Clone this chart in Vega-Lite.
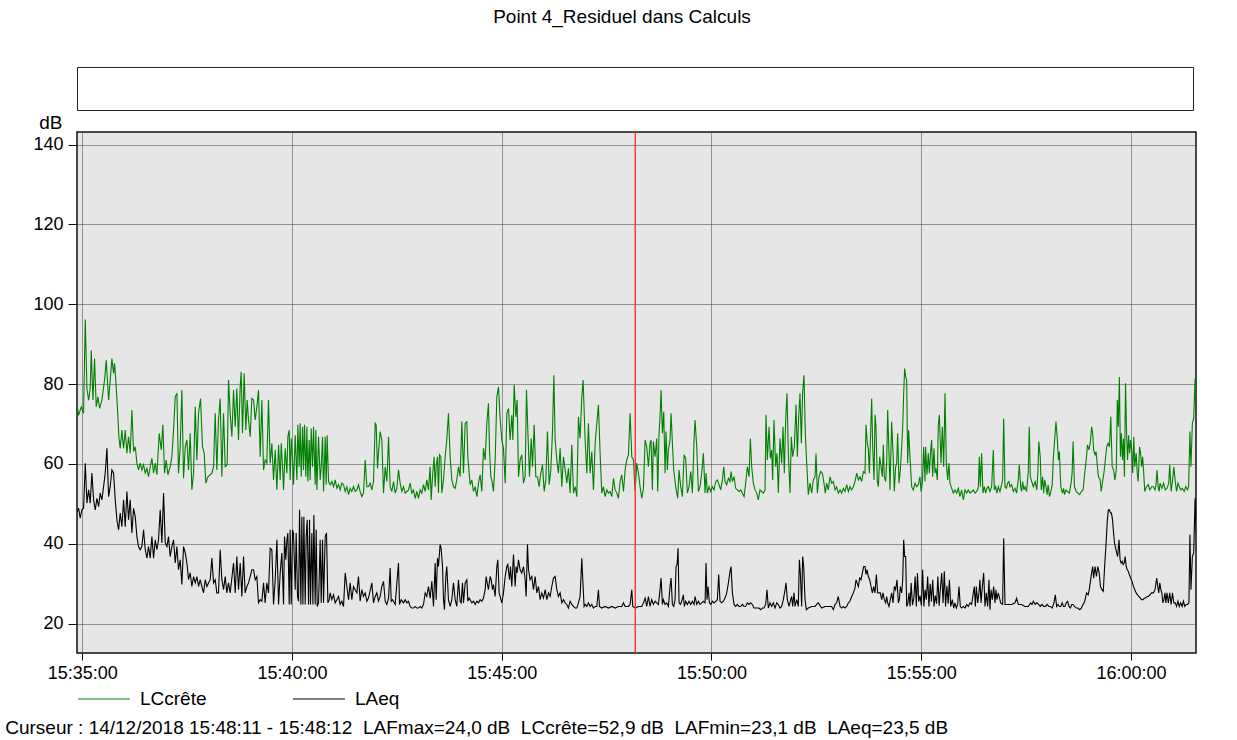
{
"$schema": "https://vega.github.io/schema/vega-lite/v6.json",
"autosize": {"type": "pad"},
"padding": {"left": 5, "top": 7, "right": 5, "bottom": 5},
"background": "white",
"title": {"text": "Curseur : 14/12/2018 15:48:11 - 15:48:12 \u00a0LAFmax=24,0 dB \u00a0LCcrête=52,9 dB \u00a0LAFmin=23,1 dB \u00a0LAeq=23,5 dB", "orient": "bottom", "anchor": "start", "frame": "bounds", "dx": -27, "offset": 10, "fontSize": 19, "fontWeight": "normal", "font": "Liberation Sans", "color": "black"},
"config": {
  "font": "Liberation Sans",
  "view": {"stroke": "black"},
  "axis": {"labelFont": "Liberation Sans", "labelFontSize": 18, "labelColor": "black", "tickColor": "black", "domain": false, "gridColor": "#3a3a3a", "gridDash": [1, 1], "gridOpacity": 1, "gridWidth": 1},
  "legend": {"labelFont": "Liberation Sans", "labelFontSize": 19, "labelColor": "black"},
  "title": {"font": "Liberation Sans", "fontSize": 19, "fontWeight": "normal", "color": "black"}
},
"spacing": 1,
"datasets": {
"c": [
{"t":-7,"v":74.3},{"t":-5.2,"v":72.2},{"t":-1.4,"v":74.3},{"t":1.9,"v":72.7},{"t":4.3,"v":96.2},{"t":6.7,"v":78.9},{"t":9.1,"v":76},{"t":11.4,"v":78.9},{"t":12.9,"v":88.5},{"t":15.3,"v":76},{"t":17.6,"v":86.4},{"t":20,"v":74.3},{"t":22.4,"v":76.8},{"t":24.8,"v":73.9},{"t":28.1,"v":76},{"t":31.9,"v":81},{"t":34.3,"v":86},{"t":37.7,"v":76},{"t":40,"v":81},{"t":42.4,"v":86.4},{"t":44.8,"v":82.7},{"t":46.2,"v":85.2},{"t":48.1,"v":80.6},{"t":50.5,"v":73.5},{"t":52.4,"v":66.8},{"t":54.3,"v":63.9},{"t":56.7,"v":68.5},{"t":59.1,"v":63.9},{"t":61.5,"v":68.5},{"t":63.9,"v":62.7},{"t":66.2,"v":66.8},{"t":68.6,"v":62.7},{"t":71,"v":73.5},{"t":73.4,"v":63.1},{"t":75.8,"v":64.3},{"t":78.2,"v":60.2},{"t":80.5,"v":58.5},{"t":82.9,"v":60.2},{"t":85.3,"v":58.5},{"t":87.7,"v":59.8},{"t":90.1,"v":57.7},{"t":92.5,"v":58.9},{"t":94.8,"v":56.8},{"t":97.2,"v":59.3},{"t":99.6,"v":61.4},{"t":102,"v":57.7},{"t":104.4,"v":60.2},{"t":106.8,"v":57.3},{"t":110.1,"v":67.7},{"t":113,"v":63.5},{"t":115.3,"v":69.8},{"t":117.7,"v":57.7},{"t":120.1,"v":61},{"t":122.5,"v":57.3},{"t":125.8,"v":59.3},{"t":128.2,"v":61.8},{"t":130.6,"v":68.5},{"t":133,"v":76.8},{"t":135.4,"v":77.7},{"t":137.7,"v":57.7},{"t":140.1,"v":64.3},{"t":142.5,"v":78.5},{"t":144.9,"v":56.4},{"t":147.3,"v":64.3},{"t":149.7,"v":66},{"t":152,"v":58.5},{"t":154.4,"v":67.7},{"t":156.8,"v":53.5},{"t":159.2,"v":57.7},{"t":161.6,"v":74.3},{"t":164,"v":61},{"t":166.3,"v":72.7},{"t":169.2,"v":76.4},{"t":172,"v":64.3},{"t":174.4,"v":62.7},{"t":176.8,"v":55.2},{"t":179.7,"v":56.8},{"t":183,"v":57.3},{"t":185.4,"v":57.7},{"t":187.8,"v":59.3},{"t":190.2,"v":72.7},{"t":192.5,"v":58.5},{"t":194.9,"v":71},{"t":197.3,"v":76.4},{"t":199.7,"v":56.8},{"t":202.1,"v":72.7},{"t":204.5,"v":59.3},{"t":207.3,"v":59.8},{"t":209.2,"v":81},{"t":211.6,"v":72.7},{"t":214,"v":66.8},{"t":216.4,"v":78.5},{"t":218.8,"v":69.3},{"t":221.1,"v":78.9},{"t":223.5,"v":66},{"t":225.9,"v":79.3},{"t":227.3,"v":83.1},{"t":229.2,"v":67.7},{"t":231.6,"v":82.7},{"t":234,"v":68.5},{"t":235.9,"v":76},{"t":237.8,"v":71},{"t":240.2,"v":66.8},{"t":242.6,"v":76.4},{"t":245,"v":76},{"t":247.4,"v":71},{"t":249.7,"v":74.3},{"t":252.1,"v":78.5},{"t":254.5,"v":61.8},{"t":256.9,"v":76},{"t":259.3,"v":58.5},{"t":261.6,"v":61},{"t":264,"v":60.2},{"t":266.4,"v":76},
{"t":268.8,"v":60.2},{"t":271.2,"v":65.2},{"t":273.6,"v":56},{"t":276,"v":63.5},{"t":278.4,"v":53.5},{"t":280.8,"v":64.8},{"t":283.1,"v":56},{"t":284.6,"v":65.2},{"t":286.5,"v":59.3},{"t":287.9,"v":53.5},{"t":290.3,"v":63.9},{"t":292.7,"v":57.7},{"t":294.1,"v":66.8},{"t":296,"v":68.5},{"t":297.4,"v":56},{"t":298.9,"v":66.4},{"t":300.8,"v":61},{"t":302.2,"v":54.8},{"t":304.6,"v":67.2},{"t":307,"v":56},{"t":308.4,"v":69.8},{"t":310.3,"v":59.3},{"t":311.7,"v":70.2},{"t":313.2,"v":56.8},{"t":315.1,"v":69.3},{"t":316.5,"v":58.5},{"t":317.9,"v":69.8},{"t":319.8,"v":56.8},{"t":321.3,"v":69.3},{"t":322.7,"v":55.6},{"t":324.6,"v":66},{"t":326,"v":56},{"t":327.5,"v":68.9},{"t":329.4,"v":59.3},{"t":330.8,"v":69.3},{"t":333.2,"v":54.8},{"t":334.1,"v":68.5},{"t":335.6,"v":53.5},{"t":338,"v":66.8},{"t":340.3,"v":56},{"t":341.8,"v":59.3},{"t":343.7,"v":66.8},{"t":345.1,"v":53.1},{"t":347.5,"v":66.8},{"t":348.9,"v":54.8},{"t":350.3,"v":67.2},{"t":352.3,"v":55.6},{"t":354.6,"v":54.8},{"t":357,"v":55.6},{"t":359.4,"v":54.3},{"t":361.8,"v":56},{"t":364.2,"v":53.9},{"t":366.6,"v":54.8},{"t":368.9,"v":53.5},{"t":371.3,"v":55.2},{"t":373.7,"v":54.8},{"t":376.1,"v":53.1},{"t":378.5,"v":54.3},{"t":380.9,"v":52.3},{"t":383.2,"v":53.9},{"t":385.6,"v":53.1},{"t":388,"v":54.3},{"t":390.4,"v":53.1},{"t":392.8,"v":53.5},{"t":395.1,"v":54.8},{"t":397.5,"v":53.1},{"t":399.9,"v":51.8},{"t":402.3,"v":52.7},{"t":404.7,"v":61},{"t":407.1,"v":54.3},{"t":409.4,"v":54.3},{"t":411.8,"v":55.2},{"t":414.2,"v":53.5},{"t":416.6,"v":55.6},{"t":419,"v":70.2},{"t":420.4,"v":69.8},{"t":422.3,"v":58.9},{"t":423.7,"v":62.7},{"t":426.1,"v":68.1},{"t":428.5,"v":66},{"t":430.9,"v":52.7},{"t":433.3,"v":59.3},{"t":435.7,"v":55.6},{"t":438.1,"v":66.8},{"t":440.4,"v":54.3},{"t":442.8,"v":53.1},{"t":445.2,"v":55.6},{"t":447.6,"v":52.7},{"t":450,"v":53.9},{"t":452.3,"v":58.5},{"t":454.7,"v":55.2},{"t":457.1,"v":53.1},{"t":459.5,"v":54.3},{"t":461.9,"v":52.7},{"t":464.3,"v":53.1},{"t":466.6,"v":53.5},{"t":469,"v":55.2},{"t":471.4,"v":52.7},{"t":473.8,"v":53.5},{"t":476.2,"v":51.4},{"t":478.5,"v":53.1},{"t":480.9,"v":51.4},{"t":483.3,"v":53.5},{"t":485.7,"v":52.7},{"t":488.1,"v":54.8},{"t":490.5,"v":53.1},{"t":492.8,"v":56},{"t":495.2,"v":53.5},{"t":497.6,"v":59.3},{"t":499.1,"v":51},{"t":501,"v":56.8},{"t":503.3,"v":61.8},{"t":504.8,"v":54.3},{"t":506.2,"v":59.3},{"t":508.1,"v":61.8},{"t":509.5,"v":52.7},{"t":511,"v":62.3},{"t":512.9,"v":61.8},{"t":514.3,"v":52.7},{"t":516.7,"v":56},{"t":519.1,"v":61.8},{"t":521.4,"v":66},{"t":523.8,"v":72.7},{"t":526.2,"v":61.8},{"t":528.6,"v":56},{"t":531,"v":54.3},{"t":533.4,"v":53.9},{"t":535.7,"v":56},{"t":538.1,"v":59.3},
{"t":540.5,"v":56.8},{"t":542.9,"v":70.6},{"t":545.3,"v":57.7},{"t":547.7,"v":70.2},{"t":550.1,"v":70.6},{"t":551.5,"v":61.8},{"t":553.4,"v":57.7},{"t":554.8,"v":54.8},{"t":557.2,"v":56},{"t":559.6,"v":53.1},{"t":562,"v":54.3},{"t":564.4,"v":51.8},{"t":566.8,"v":55.2},{"t":569.1,"v":57.3},{"t":571.5,"v":53.1},{"t":573.9,"v":63.9},{"t":576.3,"v":61},{"t":578.7,"v":70.2},{"t":581,"v":75.2},{"t":582.5,"v":63.5},{"t":584.4,"v":56.8},{"t":585.8,"v":56},{"t":588.2,"v":53.1},{"t":590.6,"v":61},{"t":593,"v":76.8},{"t":595.4,"v":79.3},{"t":597.7,"v":71.4},{"t":600.1,"v":66},{"t":602.5,"v":63.9},{"t":604.9,"v":55.2},{"t":607.3,"v":72.7},{"t":609.7,"v":73.9},{"t":612,"v":66},{"t":614.4,"v":72.2},{"t":615.9,"v":66},{"t":617.8,"v":79.8},{"t":620.1,"v":71.8},{"t":622,"v":76},{"t":624,"v":56.8},{"t":626.3,"v":61},{"t":628.7,"v":62.3},{"t":631.1,"v":55.2},{"t":633.5,"v":56.8},{"t":635.4,"v":78.5},{"t":637.3,"v":68.5},{"t":639.7,"v":56.8},{"t":642.1,"v":66.4},{"t":644,"v":59.3},{"t":646.4,"v":69.8},{"t":648.7,"v":56.8},{"t":651.1,"v":56.8},{"t":653.5,"v":54.3},{"t":655.9,"v":57.7},{"t":658.3,"v":59.8},{"t":660.7,"v":53.1},{"t":663,"v":56},{"t":665.4,"v":68.1},{"t":667.8,"v":54.8},{"t":670.2,"v":58.5},{"t":672.6,"v":68.1},{"t":674.5,"v":82.2},{"t":676.4,"v":66},{"t":678.8,"v":61},{"t":681.1,"v":57.7},{"t":683.5,"v":63.9},{"t":685.9,"v":54.3},{"t":688.3,"v":61.8},{"t":690.7,"v":58.5},{"t":693.1,"v":55.2},{"t":695.4,"v":58.9},{"t":697.8,"v":52.7},{"t":700.2,"v":64.8},{"t":702.6,"v":52.7},{"t":705,"v":54.3},{"t":707.4,"v":51.8},{"t":709.7,"v":71.8},{"t":712.1,"v":66.4},{"t":714.5,"v":76.8},{"t":716.4,"v":81},{"t":719.3,"v":66},{"t":721.7,"v":57.7},{"t":724,"v":70.2},{"t":726.4,"v":57.7},{"t":728.8,"v":63.1},{"t":731.2,"v":53.5},{"t":733.6,"v":65.2},{"t":736,"v":70.2},{"t":738.3,"v":74.8},{"t":740.7,"v":62.7},{"t":743.1,"v":52.7},{"t":745.5,"v":54.3},{"t":747.9,"v":51.8},{"t":750.3,"v":53.5},{"t":752.6,"v":52.7},{"t":755,"v":53.1},{"t":757.4,"v":51.8},{"t":759.8,"v":56.4},{"t":762.2,"v":53.5},{"t":764.6,"v":52.7},{"t":766.9,"v":51.4},{"t":769.3,"v":55.6},{"t":771.7,"v":57.3},{"t":774.1,"v":53.1},{"t":776.5,"v":58.5},{"t":778.8,"v":61},{"t":781.2,"v":62.3},{"t":783.6,"v":72.7},{"t":786,"v":61.8},{"t":788.4,"v":61},{"t":790.8,"v":53.1},{"t":793.1,"v":60.2},{"t":795.5,"v":57.7},{"t":797.9,"v":54.3},{"t":800.3,"v":51.4},{"t":802.7,"v":53.9},{"t":805.1,"v":66},{"t":807.4,"v":64.3},{"t":809.8,"v":59.3},
{"t":812.1,"v":65.2},{"t":813.6,"v":66},{"t":815.5,"v":53.5},{"t":816.9,"v":65.6},{"t":819.3,"v":61.8},{"t":821.7,"v":66.4},{"t":823.1,"v":53.1},{"t":825,"v":67.7},{"t":826.4,"v":71.8},{"t":827.9,"v":78.5},{"t":829.8,"v":67.7},{"t":831.7,"v":73.1},{"t":833.6,"v":57.7},{"t":835,"v":68.1},{"t":836.9,"v":58.5},{"t":838.4,"v":63.5},{"t":840.7,"v":66},{"t":842.2,"v":72.7},{"t":844.1,"v":65.2},{"t":846,"v":58.5},{"t":848.8,"v":54.3},{"t":851.7,"v":51.4},{"t":853.6,"v":58.5},{"t":856,"v":54.3},{"t":858.4,"v":51.8},{"t":860.8,"v":62.3},{"t":863.1,"v":61.4},{"t":865.5,"v":52.7},{"t":867.9,"v":54.3},{"t":870.3,"v":58.1},{"t":872.7,"v":52.7},{"t":875.1,"v":66},{"t":876.5,"v":71},{"t":878.9,"v":64.3},{"t":881.3,"v":53.1},{"t":883.6,"v":54.3},{"t":886,"v":57.7},{"t":888.4,"v":62.7},{"t":890.8,"v":52.7},{"t":892.2,"v":57.7},{"t":894.1,"v":52.7},{"t":896.5,"v":54.3},{"t":898.9,"v":53.1},{"t":901.3,"v":54.3},{"t":903.7,"v":53.5},{"t":906,"v":55.6},{"t":908.4,"v":56},{"t":910.8,"v":54.8},{"t":913.2,"v":53.5},{"t":915.6,"v":56},{"t":917.5,"v":59.3},{"t":919.4,"v":55.6},{"t":921.8,"v":54.8},{"t":924.2,"v":56.4},{"t":926.5,"v":55.6},{"t":928,"v":58.1},{"t":929.9,"v":55.6},{"t":932.3,"v":56.8},{"t":934.6,"v":53.9},{"t":937,"v":53.5},{"t":939.4,"v":53.1},{"t":941.8,"v":53.5},{"t":944.2,"v":52.7},{"t":946.6,"v":51.8},{"t":948.9,"v":55.2},{"t":951.3,"v":59.3},{"t":953.7,"v":56.8},{"t":955.6,"v":66.4},{"t":957.5,"v":59.3},{"t":959.9,"v":55.2},{"t":962.3,"v":53.5},{"t":964.7,"v":52.7},{"t":967,"v":51},{"t":969.4,"v":53.5},{"t":971.8,"v":53.1},{"t":974.2,"v":52.7},{"t":976.6,"v":53.5},{"t":978,"v":72.3},{"t":979.9,"v":61},{"t":982.3,"v":69.3},{"t":984.2,"v":61.4},{"t":986.1,"v":63.5},{"t":987.5,"v":56},{"t":989.4,"v":71},{"t":991.8,"v":59.3},{"t":993.7,"v":62.7},{"t":995.6,"v":52.7},{"t":998,"v":66.4},{"t":1000.4,"v":60.2},{"t":1002.3,"v":69.3},{"t":1004.2,"v":57.7},{"t":1006.1,"v":71},{"t":1008,"v":77.7},{"t":1009.9,"v":62.7},{"t":1012.3,"v":52.7},{"t":1014.2,"v":66.8},{"t":1016.1,"v":61.8},{"t":1018.5,"v":64.3},{"t":1020.9,"v":74.8},{"t":1022.8,"v":61.8},{"t":1024.7,"v":71.8},{"t":1026.6,"v":77.7},{"t":1028.5,"v":65.2},{"t":1030.4,"v":78.1},{"t":1032.3,"v":82.2},{"t":1034.2,"v":67.7},{"t":1036.2,"v":60.2},{"t":1038.5,"v":52.3},{"t":1040.9,"v":55.2},{"t":1043.3,"v":52.7},{"t":1045.7,"v":56},{"t":1048.1,"v":56.8},{"t":1049.5,"v":62.7},{"t":1051.4,"v":52.7},{"t":1053.8,"v":56.8},{"t":1056.2,"v":58.1},{"t":1058.6,"v":57.7},{"t":1060.9,"v":55.2},{"t":1062.8,"v":52.7},{"t":1064.7,"v":55.2},{"t":1067.1,"v":53.5},{"t":1069.5,"v":56.8},{"t":1071.9,"v":55.2},{"t":1074.3,"v":55.6},{"t":1076.7,"v":53.5},{"t":1079,"v":54.3},{"t":1081.4,"v":52.7},
{"t":1083.9,"v":53.5},{"t":1086.2,"v":52.7},{"t":1088.6,"v":53.9},{"t":1091,"v":53.1},{"t":1093.4,"v":54.8},{"t":1095.8,"v":53.1},{"t":1098.1,"v":54.3},{"t":1100.5,"v":53.5},{"t":1102.9,"v":54.3},{"t":1105.3,"v":55.6},{"t":1107.7,"v":57.7},{"t":1110.1,"v":56},{"t":1112.4,"v":56.8},{"t":1114.8,"v":55.6},{"t":1117.2,"v":58.1},{"t":1119.6,"v":57.7},{"t":1121,"v":69.8},{"t":1122.9,"v":65.2},{"t":1124.4,"v":63.5},{"t":1125.8,"v":57.7},{"t":1127.2,"v":65.2},{"t":1129.1,"v":76.4},{"t":1130.6,"v":64.3},{"t":1132.5,"v":56},{"t":1133.9,"v":72.3},{"t":1135.3,"v":69.3},{"t":1137.2,"v":55.6},{"t":1138.7,"v":54.3},{"t":1140.6,"v":61.8},{"t":1142.5,"v":59.3},{"t":1144.4,"v":56.8},{"t":1145.8,"v":64.8},{"t":1147.2,"v":56.8},{"t":1149.1,"v":55.6},{"t":1150.6,"v":60.2},{"t":1152,"v":73.5},{"t":1153.9,"v":62.7},{"t":1155.3,"v":53.5},{"t":1157.7,"v":70.6},{"t":1160.1,"v":61},{"t":1161.5,"v":53.1},{"t":1163.4,"v":59.3},{"t":1164.9,"v":60.2},{"t":1166.3,"v":67.7},{"t":1168.2,"v":55.2},{"t":1170.1,"v":58.5},{"t":1172,"v":64.3},{"t":1173.5,"v":69.3},{"t":1174.9,"v":77.7},{"t":1176.3,"v":83.9},{"t":1177.7,"v":81.8},{"t":1179.2,"v":81},{"t":1180.6,"v":60.2},{"t":1182,"v":68.5},{"t":1183.9,"v":61.8},{"t":1186.3,"v":54.3},{"t":1188.7,"v":53.5},{"t":1191.1,"v":55.2},{"t":1193.5,"v":54.3},{"t":1195.9,"v":54.8},{"t":1198.2,"v":56.8},{"t":1199.7,"v":53.1},{"t":1201.6,"v":55.2},{"t":1203.5,"v":64.3},{"t":1205.4,"v":55.6},{"t":1206.3,"v":64.3},{"t":1208.2,"v":57.3},{"t":1210.1,"v":62.7},{"t":1211.6,"v":57.7},{"t":1213.5,"v":63.5},{"t":1214.9,"v":66},{"t":1216.3,"v":56.8},{"t":1218.2,"v":63.9},{"t":1219.7,"v":57.7},{"t":1221.1,"v":58.9},{"t":1223,"v":56},{"t":1224.4,"v":69.8},{"t":1225.9,"v":72.3},{"t":1228.3,"v":60.2},{"t":1230.2,"v":69.3},{"t":1232.1,"v":59.3},{"t":1234,"v":77.7},{"t":1235.9,"v":60.2},{"t":1237.8,"v":56},{"t":1239.7,"v":60.2},{"t":1241.1,"v":55.2},{"t":1243.5,"v":53.9},{"t":1245.9,"v":52.7},{"t":1248.3,"v":53.5},{"t":1250.7,"v":52.7},{"t":1253.1,"v":53.9},{"t":1255.4,"v":51.8},{"t":1257.8,"v":53.5},{"t":1260.2,"v":51},{"t":1262.6,"v":53.5},{"t":1265,"v":52.7},{"t":1267.3,"v":53.5},{"t":1269.7,"v":52.7},{"t":1272.1,"v":53.1},{"t":1274.5,"v":53.5},{"t":1276.9,"v":52.7},{"t":1279.3,"v":53.1},{"t":1281.6,"v":53.9},{"t":1283.1,"v":61.8},{"t":1284.5,"v":54.3},{"t":1286.4,"v":62.7},{"t":1288.3,"v":52.7},{"t":1290.2,"v":54.3},{"t":1292.1,"v":52.7},{"t":1294,"v":53.9},{"t":1295.9,"v":54.3},{"t":1298.3,"v":53.1},{"t":1300.7,"v":54.3},{"t":1303.1,"v":63.5},{"t":1304.5,"v":53.5},{"t":1306.4,"v":54.3},{"t":1308.3,"v":52.7},{"t":1310.2,"v":54.3},{"t":1312.6,"v":53.1},{"t":1315,"v":54.8},{"t":1316.4,"v":56},{"t":1317.9,"v":71.4},{"t":1319.8,"v":54.3},{"t":1321.7,"v":53.9},{"t":1323.6,"v":55.2},{"t":1325.5,"v":55.6},{"t":1326.9,"v":54.3},{"t":1329.3,"v":54.8},{"t":1331.7,"v":53.1},{"t":1334.1,"v":53.9},{"t":1336.4,"v":52.7},{"t":1338.8,"v":56},{"t":1340.3,"v":59.8},{"t":1342.2,"v":54.3},{"t":1343.6,"v":53.1},{"t":1345,"v":55.6},{"t":1346.9,"v":53.5},{"t":1348.4,"v":54.3},{"t":1350.7,"v":53.1},{"t":1353.1,"v":58.1},
{"t":1354.5,"v":69.3},{"t":1356,"v":56.8},{"t":1358,"v":55.6},{"t":1360.4,"v":54.3},{"t":1362.9,"v":55.6},{"t":1365.3,"v":53.5},{"t":1366.8,"v":57.7},{"t":1368.2,"v":65.6},{"t":1370.2,"v":61.8},{"t":1371.7,"v":53.5},{"t":1373.6,"v":56.8},{"t":1375.1,"v":52.7},{"t":1376.6,"v":56},{"t":1378.5,"v":54.3},{"t":1380,"v":52.3},{"t":1381.5,"v":54.8},{"t":1383.4,"v":51.8},{"t":1384.9,"v":52.7},{"t":1387.4,"v":54.8},{"t":1388.8,"v":61},{"t":1390.8,"v":66},{"t":1392.7,"v":70.6},{"t":1394.7,"v":66},{"t":1396.2,"v":61},{"t":1397.6,"v":63.1},{"t":1399.6,"v":54.3},{"t":1402,"v":52.7},{"t":1403.5,"v":53.9},{"t":1405,"v":52.3},{"t":1407,"v":53.5},{"t":1409.4,"v":53.1},{"t":1411.9,"v":52.7},{"t":1414.3,"v":55.2},{"t":1415.8,"v":57.7},{"t":1417.2,"v":65.6},{"t":1419.2,"v":54.3},{"t":1421.7,"v":53.1},{"t":1424.1,"v":52.7},{"t":1426.6,"v":52.3},{"t":1429,"v":53.1},{"t":1431.5,"v":53.5},{"t":1433.9,"v":57.7},{"t":1436.4,"v":61.8},{"t":1437.8,"v":64.8},{"t":1439.8,"v":63.5},{"t":1441.7,"v":65.2},{"t":1443.7,"v":69.3},{"t":1445.2,"v":67.7},{"t":1446.6,"v":63.5},{"t":1448.6,"v":62.3},{"t":1450.1,"v":63.1},{"t":1452,"v":59.3},{"t":1453.5,"v":56.8},{"t":1456,"v":56},{"t":1457.4,"v":53.1},{"t":1459.4,"v":55.6},{"t":1461.3,"v":57.7},{"t":1463.3,"v":61},{"t":1465.3,"v":64.3},{"t":1467.2,"v":65.2},{"t":1469.2,"v":64.3},{"t":1471.1,"v":71.8},{"t":1473.1,"v":59.3},{"t":1475.1,"v":58.5},{"t":1477,"v":56},{"t":1479,"v":58.5},{"t":1480.5,"v":76},{"t":1481.9,"v":69.3},{"t":1483.4,"v":81.8},{"t":1484.9,"v":61.8},{"t":1486.3,"v":67.7},{"t":1487.8,"v":61},{"t":1489.3,"v":66.4},{"t":1490.7,"v":56.8},{"t":1492.2,"v":80.2},{"t":1493.7,"v":67.7},{"t":1495.1,"v":61},{"t":1496.6,"v":67.2},{"t":1498.1,"v":62.7},{"t":1499.6,"v":66},{"t":1501,"v":63.5},{"t":1502.5,"v":57.7},{"t":1504,"v":66.8},{"t":1505.4,"v":59.3},{"t":1507.4,"v":62.7},{"t":1508.9,"v":57.7},{"t":1510.3,"v":55.6},{"t":1512.3,"v":64.3},{"t":1513.8,"v":62.7},{"t":1515.2,"v":59.3},{"t":1516.7,"v":61.8},{"t":1518.2,"v":57.7},{"t":1519.7,"v":53.1},{"t":1522.1,"v":54.3},{"t":1524.6,"v":54.8},{"t":1527,"v":53.5},{"t":1529.5,"v":54.3},{"t":1531.9,"v":54.3},{"t":1534.4,"v":53.5},{"t":1535.8,"v":54.8},{"t":1537.3,"v":58.5},{"t":1538.8,"v":54.3},{"t":1540.2,"v":53.1},{"t":1541.7,"v":55.2},{"t":1544.2,"v":53.9},{"t":1546.6,"v":55.2},{"t":1549.1,"v":53.5},{"t":1551.5,"v":53.9},{"t":1554,"v":55.2},{"t":1555.4,"v":59.8},{"t":1557.4,"v":53.1},{"t":1559.3,"v":55.6},{"t":1561.3,"v":59.3},{"t":1563.3,"v":55.6},{"t":1565.2,"v":53.1},{"t":1567.2,"v":55.2},{"t":1569.1,"v":54.3},{"t":1571.1,"v":53.5},{"t":1573.6,"v":53.9},{"t":1576,"v":53.1},{"t":1578.5,"v":54.3},{"t":1580.9,"v":53.5},{"t":1582.4,"v":54.3},{"t":1584.3,"v":68.1},{"t":1585.8,"v":59.3},{"t":1587.8,"v":70.2},{"t":1589.7,"v":71.4},{"t":1591.7,"v":81.4},{"t":1593.6,"v":72.3}
],
"a": [
{"t":-7,"v":48},{"t":-5.2,"v":48.9},{"t":-2.9,"v":46.4},{"t":-0.5,"v":48.5},{"t":1.9,"v":48.9},{"t":4.3,"v":60.2},{"t":6.7,"v":50.2},{"t":9.1,"v":53.5},{"t":11.4,"v":50.2},{"t":13.8,"v":57.7},{"t":16.2,"v":51},{"t":18.6,"v":48.5},{"t":21,"v":51.4},{"t":23.4,"v":49.3},{"t":25.7,"v":52.7},{"t":28.1,"v":51},{"t":30.5,"v":54.3},{"t":32.9,"v":57.7},{"t":35.3,"v":63.9},{"t":37.7,"v":51.8},{"t":40,"v":54.3},{"t":42.4,"v":58.5},{"t":44.8,"v":57.7},{"t":47.2,"v":51},{"t":49.6,"v":46},{"t":52,"v":43.5},{"t":54.3,"v":47.7},{"t":56.7,"v":44.3},{"t":59.1,"v":51},{"t":61.5,"v":44.3},{"t":63.9,"v":53.1},{"t":66.2,"v":46},{"t":68.6,"v":51},{"t":71,"v":42.7},{"t":73.4,"v":48.9},{"t":75.8,"v":46.8},{"t":78.2,"v":41.8},{"t":80.5,"v":39.3},{"t":82.9,"v":38.5},{"t":85.3,"v":39.3},{"t":87.7,"v":43.5},{"t":90.1,"v":38.5},{"t":92.5,"v":36.4},{"t":94.8,"v":39.3},{"t":97.2,"v":36.4},{"t":99.6,"v":41.8},{"t":102,"v":36.4},{"t":104.4,"v":41},{"t":106.8,"v":38.5},{"t":109.1,"v":41},{"t":111.5,"v":48.5},{"t":113.9,"v":40.2},{"t":116.3,"v":52.7},{"t":118.7,"v":40.2},{"t":121.1,"v":39.3},{"t":123.4,"v":41.8},{"t":125.8,"v":36.8},{"t":128.2,"v":39.3},{"t":130.6,"v":41},{"t":133,"v":35.2},{"t":135.4,"v":39.3},{"t":137.7,"v":33.5},{"t":140.1,"v":36},{"t":142.5,"v":29.8},{"t":144.9,"v":39.3},{"t":147.3,"v":37.7},{"t":149.7,"v":35.2},{"t":152,"v":31},{"t":154.4,"v":32.7},{"t":156.8,"v":29.3},{"t":159.2,"v":31.8},{"t":161.6,"v":30.2},{"t":164,"v":31.8},{"t":166.3,"v":29.3},{"t":168.7,"v":31},{"t":171.1,"v":29.3},{"t":173.5,"v":27.7},{"t":175.9,"v":31},{"t":178.3,"v":29.3},{"t":180.6,"v":30.2},{"t":183,"v":31},{"t":185.4,"v":36.4},{"t":187.8,"v":30.2},{"t":190.2,"v":31},{"t":192.5,"v":27.7},{"t":194.9,"v":27.7},{"t":197.3,"v":38.5},{"t":199.7,"v":31},{"t":202.1,"v":28.5},{"t":204.5,"v":31.8},{"t":206.8,"v":27.7},{"t":209.2,"v":30.2},{"t":211.6,"v":27.7},{"t":214,"v":31.4},{"t":216.4,"v":35.2},{"t":218.8,"v":27.7},{"t":221.1,"v":36.8},{"t":223.5,"v":28.5},{"t":225.9,"v":35.2},{"t":228.3,"v":26.8},{"t":230.7,"v":36.8},{"t":233,"v":27.7},{"t":235.4,"v":29.3},{"t":237.8,"v":30.2},{"t":240.2,"v":31.8},{"t":242.6,"v":33.5},{"t":245,"v":33.5},{"t":247.4,"v":31},{"t":249.7,"v":31.8},{"t":252.1,"v":25.2},{"t":254.5,"v":26},{"t":256.9,"v":25.6},{"t":259.3,"v":30.2},{"t":261.6,"v":25.2},{"t":264,"v":30.2},{"t":266.4,"v":27.7},
{"t":268.8,"v":38.9},{"t":271.2,"v":38.5},{"t":273.6,"v":24.8},{"t":276,"v":31},{"t":278.4,"v":41},{"t":280.8,"v":24.8},{"t":283.1,"v":32.7},{"t":285.5,"v":37.7},{"t":287.9,"v":24.8},{"t":289.3,"v":41.8},{"t":291.2,"v":36},{"t":292.7,"v":41},{"t":294.1,"v":42.7},{"t":296,"v":24.8},{"t":297.4,"v":43.5},{"t":298.9,"v":24.8},{"t":300.8,"v":43.5},{"t":302.2,"v":42.7},{"t":304.6,"v":28.5},{"t":306,"v":42.7},{"t":307.9,"v":26.8},{"t":309.4,"v":25.6},{"t":310.8,"v":48.5},{"t":312.7,"v":24.8},{"t":314.1,"v":46.8},{"t":315.6,"v":24.8},{"t":317,"v":46.8},{"t":318.9,"v":24.8},{"t":320.3,"v":41.8},{"t":321.8,"v":46},{"t":323.7,"v":24.8},{"t":325.1,"v":46},{"t":326.5,"v":24.8},{"t":328.4,"v":42.7},{"t":329.9,"v":24.8},{"t":331.3,"v":47.2},{"t":333.2,"v":24.8},{"t":334.6,"v":43.5},{"t":336.1,"v":24.3},{"t":338,"v":25.2},{"t":340.3,"v":41},{"t":341.8,"v":25.2},{"t":343.7,"v":41},{"t":345.1,"v":25.2},{"t":347.5,"v":41.8},{"t":349.4,"v":42.7},{"t":351.3,"v":25.2},{"t":353.2,"v":26},{"t":354.6,"v":27.7},{"t":357,"v":26},{"t":359.4,"v":27.2},{"t":361.8,"v":25.2},{"t":364.2,"v":26},{"t":366.6,"v":26.8},{"t":368.9,"v":24.8},{"t":371.3,"v":25.6},{"t":373.7,"v":24.3},{"t":376.1,"v":32.7},{"t":378.5,"v":29.3},{"t":380.9,"v":26},{"t":383.2,"v":30.2},{"t":385.6,"v":26},{"t":388,"v":29.3},{"t":390.4,"v":28.5},{"t":392.8,"v":27.7},{"t":395.1,"v":31.8},{"t":397.5,"v":25.6},{"t":399.9,"v":28.5},{"t":402.3,"v":26.8},{"t":404.7,"v":27.7},{"t":407.1,"v":25.6},{"t":409.4,"v":26.4},{"t":414.2,"v":30.2},{"t":416.6,"v":25.2},{"t":419,"v":26.8},{"t":421.4,"v":27.7},{"t":423.7,"v":25.6},{"t":426.1,"v":26.8},{"t":428.5,"v":29.3},{"t":430.9,"v":30.6},{"t":433.3,"v":25.6},{"t":435.7,"v":24.8},{"t":438.1,"v":26.4},{"t":440.4,"v":33.9},{"t":441.9,"v":25.6},{"t":443.8,"v":26},{"t":447.6,"v":24.8},{"t":452.3,"v":35.2},{"t":453.8,"v":24.8},{"t":456.2,"v":26},{"t":459.5,"v":25.2},{"t":461.9,"v":26},{"t":464.3,"v":25.2},{"t":466.6,"v":25.6},{"t":469,"v":24.3},{"t":471.4,"v":23.9},{"t":473.8,"v":23.9},{"t":476.2,"v":24.3},{"t":478.5,"v":23.9},{"t":480.9,"v":23.9},{"t":483.3,"v":24.3},{"t":485.7,"v":23.9},{"t":488.1,"v":24.8},{"t":490.5,"v":27.7},{"t":492.8,"v":26.8},{"t":495.2,"v":29.3},{"t":497.6,"v":26.4},{"t":500,"v":30.6},{"t":502.4,"v":24.3},{"t":504.8,"v":35.2},{"t":506.2,"v":26},{"t":508.1,"v":36.4},{"t":509.5,"v":34.3},{"t":511.9,"v":39.8},{"t":513.3,"v":38.9},{"t":515.3,"v":34.3},{"t":516.7,"v":26},{"t":518.1,"v":23.5},{"t":520,"v":31.8},{"t":521.4,"v":34.3},{"t":523.8,"v":26},{"t":526.2,"v":24.3},{"t":528.6,"v":26},{"t":531,"v":30.2},{"t":533.4,"v":26},{"t":535.7,"v":24.3},{"t":538.1,"v":31},
{"t":540.5,"v":25.6},{"t":542,"v":25.2},{"t":543.9,"v":30.2},{"t":545.3,"v":25.2},{"t":547.7,"v":30.2},{"t":550.1,"v":31},{"t":551.5,"v":25.6},{"t":553.4,"v":26.4},{"t":554.8,"v":26},{"t":557.2,"v":25.2},{"t":559.6,"v":25.6},{"t":562,"v":24.8},{"t":564.4,"v":25.6},{"t":566.8,"v":25.2},{"t":569.1,"v":26},{"t":571.5,"v":25.6},{"t":573.9,"v":26.4},{"t":576.3,"v":28.5},{"t":577.7,"v":31.8},{"t":579.6,"v":29.8},{"t":581,"v":28.5},{"t":583.4,"v":31.8},{"t":584.9,"v":31},{"t":586.8,"v":28.5},{"t":588.2,"v":29.8},{"t":590.6,"v":26.8},{"t":593,"v":34.3},{"t":594.4,"v":36},{"t":596.3,"v":27.7},{"t":597.7,"v":26.8},{"t":600.1,"v":25.2},{"t":602.5,"v":27.7},{"t":604.9,"v":31.8},{"t":607.3,"v":34.3},{"t":608.7,"v":34.8},{"t":611.1,"v":31},{"t":612.5,"v":34.3},{"t":614.4,"v":29.3},{"t":616.8,"v":37.3},{"t":619.2,"v":29.3},{"t":620.6,"v":34.3},{"t":622,"v":32.7},{"t":624,"v":36},{"t":626.3,"v":33.5},{"t":628.7,"v":32.7},{"t":631.1,"v":34.3},{"t":633.5,"v":31},{"t":634.9,"v":26.8},{"t":636.8,"v":39.8},{"t":638.3,"v":33.5},{"t":640.6,"v":31},{"t":643,"v":31.8},{"t":645.4,"v":28.5},{"t":647.8,"v":31.8},{"t":650.2,"v":27.7},{"t":652.6,"v":29.3},{"t":654.9,"v":26},{"t":657.3,"v":27.7},{"t":659.7,"v":26.4},{"t":662.1,"v":28.5},{"t":664.5,"v":26},{"t":666.9,"v":27.7},{"t":669.2,"v":26.8},{"t":671.6,"v":29.3},{"t":674,"v":31.4},{"t":676.4,"v":31.8},{"t":678.8,"v":28.5},{"t":681.1,"v":26.8},{"t":683.5,"v":27.7},{"t":685.9,"v":25.2},{"t":688.3,"v":26},{"t":690.7,"v":25.2},{"t":693.1,"v":24.8},{"t":695.4,"v":23.9},{"t":697.8,"v":25.6},{"t":700.2,"v":24.8},{"t":702.6,"v":24.3},{"t":705,"v":23.9},{"t":707.4,"v":23.9},{"t":709.7,"v":25.2},{"t":712.1,"v":26.8},{"t":714.5,"v":36.4},{"t":715.9,"v":31},{"t":717.8,"v":24.3},{"t":719.3,"v":24.8},{"t":721.7,"v":24.3},{"t":724,"v":25.2},{"t":726.4,"v":24.3},{"t":728.8,"v":24.8},{"t":731.2,"v":23.9},{"t":733.6,"v":24.3},{"t":736,"v":24.3},{"t":738.3,"v":28.5},{"t":739.8,"v":24.3},{"t":743.1,"v":23.9},{"t":747.9,"v":24.3},{"t":752.6,"v":23.9},{"t":757.4,"v":24.3},{"t":762.2,"v":23.9},{"t":766.9,"v":24.3},{"t":771.7,"v":24.3},{"t":774.1,"v":25.2},{"t":776.5,"v":24.3},{"t":781.2,"v":24.3},{"t":783.6,"v":24.8},{"t":786,"v":28.5},{"t":787.4,"v":24.3},{"t":790.8,"v":23.9},{"t":795.5,"v":24.3},{"t":800.3,"v":24.3},{"t":802.7,"v":25.2},{"t":805.1,"v":26.4},{"t":807.4,"v":24.3},{"t":809.8,"v":26.8},
{"t":812.1,"v":24.3},{"t":814.5,"v":26},{"t":816.9,"v":24.8},{"t":819.3,"v":25.6},{"t":821.7,"v":25.2},{"t":824.1,"v":24.8},{"t":826.4,"v":28.5},{"t":827.9,"v":31.4},{"t":829.8,"v":24.8},{"t":831.2,"v":26},{"t":833.6,"v":24.8},{"t":836,"v":25.2},{"t":838.4,"v":24.3},{"t":840.7,"v":29.3},{"t":842.2,"v":31.4},{"t":844.1,"v":24.8},{"t":846,"v":24.3},{"t":847.9,"v":26},{"t":849.3,"v":34.3},{"t":850.8,"v":34.8},{"t":852.2,"v":38.9},{"t":853.6,"v":25.2},{"t":855.5,"v":24.8},{"t":857.4,"v":25.6},{"t":859.8,"v":27.2},{"t":861.2,"v":24.3},{"t":863.1,"v":25.6},{"t":865.5,"v":24.8},{"t":867.9,"v":25.6},{"t":870.3,"v":24.8},{"t":872.7,"v":25.6},{"t":875.1,"v":24.8},{"t":876.5,"v":26.8},{"t":878.9,"v":24.8},{"t":881.3,"v":25.6},{"t":883.6,"v":24.8},{"t":886,"v":25.2},{"t":888.4,"v":25.6},{"t":890.8,"v":25.2},{"t":892.2,"v":35.2},{"t":893.6,"v":26},{"t":895.1,"v":29.3},{"t":897,"v":25.2},{"t":898.9,"v":24.8},{"t":901.3,"v":25.6},{"t":903.7,"v":25.2},{"t":906,"v":25.6},{"t":908.4,"v":26},{"t":910.3,"v":32.3},{"t":912.2,"v":25.6},{"t":914.6,"v":25.2},{"t":917,"v":25.6},{"t":919.4,"v":26.4},{"t":921.8,"v":27.7},{"t":924.2,"v":30.2},{"t":926.5,"v":33.1},{"t":928,"v":34.3},{"t":929.9,"v":27.7},{"t":932.3,"v":24.8},{"t":934.6,"v":24.3},{"t":937,"v":24.8},{"t":939.4,"v":24.3},{"t":941.8,"v":24.3},{"t":944.2,"v":24.8},{"t":946.6,"v":24.3},{"t":948.9,"v":24.3},{"t":951.3,"v":25.2},{"t":953.7,"v":24.8},{"t":956.1,"v":25.2},{"t":958.5,"v":24.8},{"t":960.8,"v":23.9},{"t":963.2,"v":23.9},{"t":965.6,"v":23.9},{"t":968,"v":23.9},{"t":970.4,"v":23.5},{"t":972.8,"v":23.9},{"t":975.1,"v":23.9},{"t":977.5,"v":24.8},{"t":979.4,"v":28.5},{"t":981.3,"v":23.9},{"t":983.7,"v":25.2},{"t":986.1,"v":24.3},{"t":988.5,"v":25.2},{"t":990.9,"v":23.9},{"t":993.3,"v":25.2},{"t":995.6,"v":24.8},{"t":998,"v":23.9},{"t":1000.4,"v":24.3},{"t":1002.8,"v":26},{"t":1005.2,"v":28.5},{"t":1006.6,"v":30.2},{"t":1008.5,"v":26},{"t":1010.9,"v":24.3},{"t":1013.3,"v":26},{"t":1014.7,"v":26.8},{"t":1016.1,"v":24.3},{"t":1018,"v":27.7},{"t":1019.5,"v":24.3},{"t":1021.9,"v":26},{"t":1024.2,"v":24.3},{"t":1025.7,"v":36},{"t":1027.1,"v":32.7},{"t":1029,"v":24.3},{"t":1030.4,"v":36.8},{"t":1031.9,"v":34.3},{"t":1033.8,"v":26},{"t":1035.7,"v":23.5},{"t":1038.5,"v":23.9},{"t":1043.3,"v":24.3},{"t":1048.1,"v":24.3},{"t":1050.4,"v":24.8},{"t":1052.8,"v":25.2},{"t":1057.6,"v":23.9},{"t":1062.4,"v":24.3},{"t":1067.1,"v":24.3},{"t":1071.9,"v":24.3},{"t":1074.3,"v":23.5},{"t":1076.7,"v":24.8},{"t":1079,"v":25.2},{"t":1081.4,"v":26.8},
{"t":1083.9,"v":24.3},{"t":1086.2,"v":23.9},{"t":1088.6,"v":24.3},{"t":1091,"v":23.9},{"t":1093.4,"v":24.3},{"t":1095.8,"v":25.2},{"t":1098.1,"v":25.6},{"t":1100.5,"v":26.8},{"t":1102.9,"v":27.7},{"t":1105.3,"v":28.9},{"t":1106.7,"v":31},{"t":1108.2,"v":30.2},{"t":1110.1,"v":29.3},{"t":1112,"v":31.4},{"t":1113.9,"v":31},{"t":1115.8,"v":32.7},{"t":1117.7,"v":34.3},{"t":1119.6,"v":34.3},{"t":1121,"v":32.3},{"t":1122.5,"v":33.5},{"t":1124.4,"v":31.8},{"t":1126.3,"v":31},{"t":1128.2,"v":29.3},{"t":1130.1,"v":27.7},{"t":1132,"v":29.3},{"t":1133.9,"v":27.7},{"t":1135.8,"v":32.3},{"t":1137.7,"v":27.7},{"t":1139.6,"v":27.7},{"t":1141.5,"v":27.7},{"t":1143.4,"v":26},{"t":1145.3,"v":27.7},{"t":1147.2,"v":26},{"t":1149.1,"v":25.2},{"t":1150.6,"v":26.8},{"t":1152,"v":25.2},{"t":1153.9,"v":24.3},{"t":1155.8,"v":26},{"t":1157.7,"v":27.7},{"t":1159.6,"v":25.2},{"t":1161.5,"v":29.3},{"t":1163.4,"v":28.5},{"t":1165.3,"v":31},{"t":1167.3,"v":25.2},{"t":1168.7,"v":26},{"t":1170.1,"v":29.3},{"t":1172,"v":27.7},{"t":1173.5,"v":31},{"t":1174.9,"v":41},{"t":1176.3,"v":36.8},{"t":1177.7,"v":36.8},
{"t":1179.2,"v":24.3},{"t":1180.8,"v":25},{"t":1182.5,"v":27.7},{"t":1184,"v":24.3},{"t":1185.6,"v":30.2},{"t":1187.5,"v":24.6},{"t":1189.5,"v":26.5},{"t":1191.3,"v":31.8},{"t":1193,"v":24.3},{"t":1194.6,"v":32.7},{"t":1196.4,"v":25.5},{"t":1198.3,"v":27},{"t":1200.2,"v":24.5},{"t":1202,"v":33.5},{"t":1203.8,"v":24.3},{"t":1205.5,"v":28.5},{"t":1207.3,"v":26},{"t":1209.2,"v":31.8},{"t":1211,"v":24.3},{"t":1212.8,"v":30},{"t":1214.6,"v":25.5},{"t":1216.4,"v":31},{"t":1218.3,"v":24.3},{"t":1220.1,"v":27},{"t":1222,"v":25},{"t":1223.8,"v":31.8},{"t":1225.6,"v":24.5},{"t":1227.5,"v":29},{"t":1229.3,"v":32.7},{"t":1231.2,"v":25.2},{"t":1233,"v":33.1},{"t":1234.8,"v":24.3},{"t":1236.7,"v":29.5},{"t":1238.5,"v":25},{"t":1240.3,"v":31},{"t":1242.2,"v":24.3},{"t":1244.5,"v":26},{"t":1246.4,"v":23.9},
{"t":1248.3,"v":25.2},{"t":1250.2,"v":23.9},{"t":1252.1,"v":24.8},{"t":1254,"v":29.3},{"t":1255.9,"v":24.3},{"t":1257.8,"v":23.9},{"t":1260.2,"v":24.3},{"t":1262.6,"v":23.9},{"t":1265,"v":24.8},{"t":1267.3,"v":24.3},{"t":1269.7,"v":25.2},{"t":1272.1,"v":24.8},{"t":1274.5,"v":27.7},{"t":1275.9,"v":29.3},{"t":1277.4,"v":24.3},{"t":1278.8,"v":29.3},{"t":1280.7,"v":25.2},{"t":1282.6,"v":27.7},{"t":1284,"v":31},{"t":1285.5,"v":25.2},{"t":1287.4,"v":29.3},{"t":1289.3,"v":32.7},{"t":1291.2,"v":24.3},{"t":1293.1,"v":27.7},{"t":1295,"v":24.3},{"t":1296.9,"v":31},{"t":1298.3,"v":23.5},{"t":1299.8,"v":28.5},{"t":1301.7,"v":26},{"t":1303.6,"v":29.3},{"t":1305.5,"v":25.2},{"t":1306.9,"v":28.5},{"t":1308.3,"v":26},{"t":1310.2,"v":27.7},{"t":1313.6,"v":25.2},{"t":1316.4,"v":24.8},{"t":1317.9,"v":41.4},{"t":1319.8,"v":24.8},{"t":1324.5,"v":24.8},{"t":1329.3,"v":24.8},{"t":1334.1,"v":25.2},{"t":1336.4,"v":26.4},{"t":1338.8,"v":24.8},{"t":1343.6,"v":24.8},{"t":1348.4,"v":24.3},{"t":1353.1,"v":24.3},
{"t":1356.5,"v":25.2},{"t":1358.4,"v":24.8},{"t":1360.4,"v":25.6},{"t":1362.9,"v":24.8},{"t":1365.3,"v":25.2},{"t":1367.8,"v":24.8},{"t":1370.2,"v":24.3},{"t":1372.7,"v":24.8},{"t":1375.1,"v":24.3},{"t":1377.6,"v":24.3},{"t":1380,"v":24.8},{"t":1382.5,"v":24.3},{"t":1384.9,"v":24.3},{"t":1387.4,"v":23.9},{"t":1389.8,"v":25.2},{"t":1391.8,"v":27.2},{"t":1393.7,"v":24.3},{"t":1395.7,"v":24.8},{"t":1397.6,"v":24.3},{"t":1399.6,"v":24.3},{"t":1401.6,"v":25.2},{"t":1403.5,"v":24.3},{"t":1405.5,"v":24.3},{"t":1407.4,"v":25.2},{"t":1409.4,"v":25.6},{"t":1411.4,"v":24.3},{"t":1413.3,"v":23.9},{"t":1415.3,"v":24.8},{"t":1417.2,"v":24.8},{"t":1419.2,"v":24.3},{"t":1421.7,"v":23.9},{"t":1424.1,"v":23.9},{"t":1426.6,"v":23.5},{"t":1429,"v":23.9},{"t":1431.5,"v":24.8},{"t":1433.9,"v":25.6},{"t":1436.4,"v":27.7},{"t":1438.8,"v":27.2},{"t":1440.3,"v":28.5},{"t":1441.7,"v":30.2},{"t":1443.7,"v":32.7},{"t":1445.2,"v":34.3},{"t":1446.6,"v":31.4},{"t":1448.6,"v":34.3},{"t":1450.6,"v":31.8},{"t":1452.5,"v":34.3},{"t":1454.5,"v":32.7},{"t":1456.4,"v":29.3},{"t":1458.4,"v":28.5},{"t":1460.4,"v":28.1},{"t":1462.3,"v":34.3},{"t":1464.3,"v":39.8},{"t":1466.2,"v":46},{"t":1467.7,"v":48.5},{"t":1469.2,"v":48.5},{"t":1470.7,"v":47.7},{"t":1472.1,"v":47.7},{"t":1473.6,"v":46},{"t":1475.1,"v":42.7},{"t":1476.5,"v":40.2},{"t":1478,"v":38.9},{"t":1479.5,"v":37.7},{"t":1480.9,"v":36.8},{"t":1482.9,"v":41},{"t":1484.4,"v":36},{"t":1485.8,"v":35.2},{"t":1487.3,"v":35.6},{"t":1488.8,"v":34.8},{"t":1490.3,"v":35.2},{"t":1491.7,"v":36.8},{"t":1493.2,"v":34.3},{"t":1494.7,"v":33.5},{"t":1496.1,"v":33.1},{"t":1497.6,"v":32.3},{"t":1499.6,"v":31.4},{"t":1501.5,"v":30.6},{"t":1503.5,"v":29.3},{"t":1505.4,"v":28.5},{"t":1507.4,"v":27.7},{"t":1509.4,"v":27.2},{"t":1511.3,"v":26.8},{"t":1513.3,"v":26.4},{"t":1515.2,"v":26},{"t":1517.2,"v":26},{"t":1519.2,"v":26.4},{"t":1521.1,"v":26.4},{"t":1523.1,"v":26.8},{"t":1525,"v":26.8},{"t":1527,"v":27.2},{"t":1529.5,"v":27.7},{"t":1531.9,"v":27.7},{"t":1534.4,"v":28.5},{"t":1536.8,"v":31.4},{"t":1538.3,"v":29.3},{"t":1539.7,"v":27.7},{"t":1541.2,"v":30.2},{"t":1542.7,"v":28.5},{"t":1544.2,"v":27.7},{"t":1545.6,"v":25.2},{"t":1547.1,"v":26},{"t":1548.6,"v":27.7},{"t":1550,"v":25.2},{"t":1551.5,"v":27.7},{"t":1553.5,"v":25.2},{"t":1555.4,"v":27.7},{"t":1557.4,"v":24.8},{"t":1559.3,"v":27.7},{"t":1561.3,"v":25.2},{"t":1563.3,"v":25.2},{"t":1565.2,"v":24.3},{"t":1567.2,"v":25.6},{"t":1569.1,"v":24.3},{"t":1571.1,"v":25.2},{"t":1573.1,"v":24.3},{"t":1575,"v":25.6},{"t":1577,"v":24.3},{"t":1578.9,"v":24.8},{"t":1580.9,"v":24.8},{"t":1582.9,"v":25.2},{"t":1584.3,"v":42.3},{"t":1585.8,"v":28.5},{"t":1587.8,"v":36.8},{"t":1589.7,"v":37.7},{"t":1591.7,"v":51.4},{"t":1593.6,"v":42.3}
]
},
"vconcat": [
  {
    "width": 1116,
    "height": 43,
    "title": {"text": "Point 4_Residuel dans Calculs", "anchor": "middle", "offset": 40, "dx": -13, "fontSize": 19, "fontWeight": "normal", "font": "Liberation Sans", "color": "black"},
    "view": {"fill": "white", "stroke": "#222", "strokeWidth": 1},
    "data": {"values": [{}]},
    "mark": {"type": "text", "text": ""}
  },
  {
    "width": 1119,
    "height": 521,
    "view": {"fill": "#e6e6e6", "stroke": "#111", "strokeWidth": 1.5},
    "layer": [
      {
        "data": {"name": "c"},
        "mark": {"type": "line", "strokeWidth": 1.1, "clip": true},
        "encoding": {
          "x": {"field": "t", "type": "quantitative", "scale": {"domain": [-7.5, 1593], "nice": false, "zero": false},
                "axis": {"values": [0, 300, 600, 900, 1200, 1500], "labelExpr": "utcFormat((datum.value + 56100) * 1000, '%H:%M:%S')", "title": null, "grid": true, "tickSize": 7, "labelPadding": 4, "labelFlush": false}},
          "y": {"field": "v", "type": "quantitative", "scale": {"domain": [12.64, 143.16], "nice": false, "zero": false},
                "axis": {"values": [20, 40, 60, 80, 100, 120, 140], "title": "dB", "titleAngle": 0, "titleX": -15, "titleY": -4, "titleAlign": "right", "titleBaseline": "alphabetic", "titleFontSize": 19, "titleFontWeight": "normal", "titleColor": "black", "titleFont": "Liberation Sans", "grid": true, "tickSize": 9, "labelPadding": 5}},
          "color": {"datum": "LCcrête", "type": "nominal",
                    "scale": {"domain": ["LCcrête", "LAeq"], "range": ["#008000", "#000000"]},
                    "legend": {"orient": "bottom", "direction": "horizontal", "title": null, "symbolType": "stroke", "symbolSize": 2704, "symbolStrokeWidth": 1.2, "labelOffset": 9, "columnPadding": 83, "offset": -11}}
        }
      },
      {
        "data": {"name": "a"},
        "mark": {"type": "line", "strokeWidth": 1.1, "clip": true},
        "encoding": {
          "x": {"field": "t", "type": "quantitative"},
          "y": {"field": "v", "type": "quantitative"},
          "color": {"datum": "LAeq", "type": "nominal"}
        }
      },
      {
        "data": {"values": [{"t": 791}]},
        "mark": {"type": "rule", "color": "#ff3333", "strokeWidth": 1.4},
        "encoding": {"x": {"field": "t", "type": "quantitative"}}
      }
    ]
  }
]
}
